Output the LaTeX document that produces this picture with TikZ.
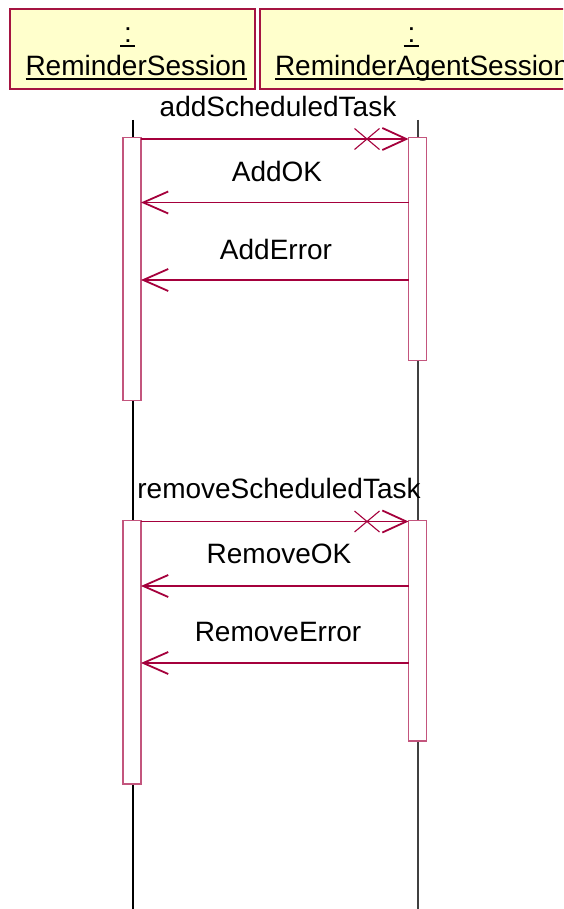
\documentclass[tikz,border=0pt]{standalone}
\usepackage{fontspec}
\setmainfont{Liberation Sans}
\usetikzlibrary{arrows.meta}
\definecolor{hbord}{RGB}{165,20,65}
\definecolor{hfill}{RGB}{255,255,204}
\definecolor{bbord}{RGB}{195,85,125}
\definecolor{msg}{RGB}{165,0,60}
\tikzset{
  x=1pt, y=-1pt,
  headbox/.style={draw=hbord, fill=hfill, line width=1.4pt, inner sep=0pt, outer sep=0pt, minimum height=80pt},
  txt/.style={font=\fontsize{28}{34}\selectfont, inner sep=0pt, outer sep=0pt, anchor=base, text=black},
  uline/.style={line width=1.6pt, black},
  life/.style={line width=1.2pt, black},
  bar/.style={draw=bbord, fill=white, line width=1.4pt, minimum width=18pt, inner sep=0pt, outer sep=0pt, anchor=north},
  call/.style={draw=msg, line width=1.3pt, -{Straight Barb[length=24pt,width=22pt,line width=1.8pt]}},
  ret/.style={draw=msg, line width=1.3pt, -{Straight Barb[length=25pt,width=22pt,line width=1.8pt]}},
  xmark/.style={draw=msg, line width=1.1pt}
}
\begin{document}
\begin{tikzpicture}
\useasboundingbox (0,0) rectangle (563,909);
\clip (0,0) rectangle (563,909);
\fill[white] (0,0) rectangle (563,909);

% headers
\node[headbox, minimum width=245pt] (h1) at (132.5,49) {};
\node[headbox, minimum width=330pt] (h2) at (425,49) {};
\node[txt] (c1) at (128,43) {:};
\node[txt] (n1) at (136,76) {ReminderSession};
\node[txt] (c2) at (411.5,43) {:};
\node[txt, anchor=base west] (n2) at (275,76) {ReminderAgentSession};
\draw[uline] ([xshift=-8pt,yshift=-3pt]c1.base) -- ([xshift=7pt,yshift=-3pt]c1.base);
\draw[uline] ([yshift=-3pt]n1.base west) -- ([yshift=-3pt]n1.base east);
\draw[uline] ([xshift=-8pt,yshift=-3pt]c2.base) -- ([xshift=7pt,yshift=-3pt]c2.base);
\draw[uline] ([yshift=-3pt]n2.base west) -- ([yshift=-3pt]n2.base east);

% lifelines
\coordinate (l1t) at (133,120);
\coordinate (l1b) at (133,909);
\coordinate (l2t) at (418,120);
\coordinate (l2b) at (418,909);
\draw[life] (l1t) -- (l1b);
\draw[life, black!75] (l2t) -- (l2b);

% activation bars
\node[bar, minimum height=263pt] (a1) at (132,137.5) {};
\node[bar, minimum height=223pt] (a2) at (417.5,137.5) {};
\node[bar, minimum height=263.5pt] (a3) at (132,520.5) {};
\node[bar, minimum height=220.5pt] (a4) at (417.5,520.5) {};

% first group
\node[txt] (m1) at (278,117) {addScheduledTask};
\draw[call] (a1.east |- 0,139) -- (a2.west |- 0,139);
\coordinate (x1) at (367,139);
\draw[xmark] ([shift={(-12.5,-10.5)}]x1) -- ([shift={(12.5,10.5)}]x1)
             ([shift={(-12.5,10.5)}]x1) -- ([shift={(12.5,-10.5)}]x1);
\node[txt] (m2) at (277,182) {AddOK};
\draw[ret] (a2.west |- 0,202.5) -- (a1.east |- 0,202.5);
\node[txt] (m3) at (276,259) {AddError};
\draw[ret] (a2.west |- 0,280) -- (a1.east |- 0,280);

% second group
\node[txt] (m4) at (279,498) {removeScheduledTask};
\draw[call] (a3.east |- 0,521.5) -- (a4.west |- 0,521.5);
\coordinate (x2) at (367,521.5);
\draw[xmark] ([shift={(-12.5,-10.5)}]x2) -- ([shift={(12.5,10.5)}]x2)
             ([shift={(-12.5,10.5)}]x2) -- ([shift={(12.5,-10.5)}]x2);
\node[txt] (m5) at (279,563) {RemoveOK};
\draw[ret] (a4.west |- 0,586) -- (a3.east |- 0,586);
\node[txt] (m6) at (278,641.5) {RemoveError};
\draw[ret] (a4.west |- 0,663) -- (a3.east |- 0,663);
\end{tikzpicture}
\end{document}
